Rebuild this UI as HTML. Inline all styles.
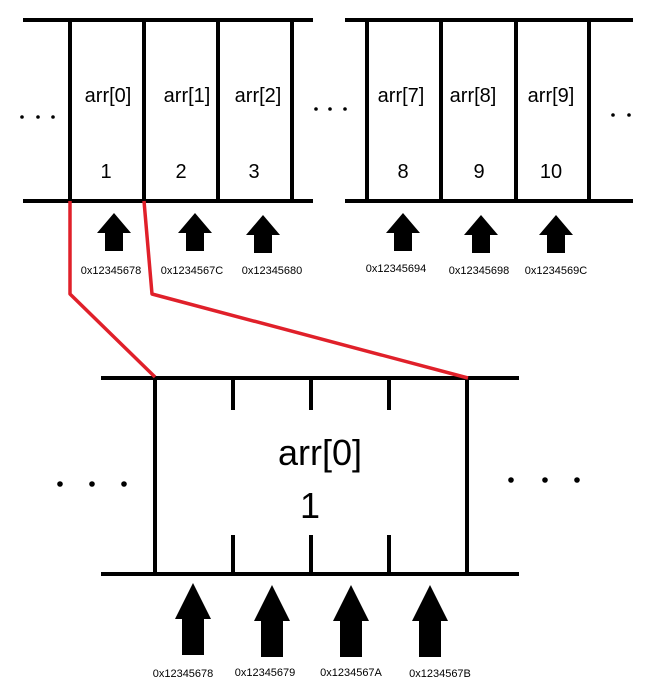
<!DOCTYPE html>
<html><head><style>
html,body{margin:0;padding:0;background:#fff;}
svg{display:block;}
text{font-family:"Liberation Sans",sans-serif;fill:#000;}
</style></head><body>
<svg width="655" height="681" viewBox="0 0 655 681" xmlns="http://www.w3.org/2000/svg">
<defs>
<path id="a1" d="M0,0 L17,20 L9,20 L9,38 L-9,38 L-9,20 L-17,20 Z"/>
<path id="a2" d="M0,0 L18,36 L11,36 L11,72 L-11,72 L-11,36 L-18,36 Z"/>
</defs>
<g stroke="#000" stroke-width="4" fill="none">
<line x1="23" y1="20" x2="313" y2="20"/>
<line x1="23" y1="201" x2="313" y2="201"/>
<line x1="70" y1="20" x2="70" y2="201"/>
<line x1="144" y1="20" x2="144" y2="201"/>
<line x1="218" y1="20" x2="218" y2="201"/>
<line x1="292" y1="20" x2="292" y2="201"/>
<line x1="345" y1="20" x2="633" y2="20"/>
<line x1="345" y1="201" x2="633" y2="201"/>
<line x1="367" y1="20" x2="367" y2="201"/>
<line x1="441" y1="20" x2="441" y2="201"/>
<line x1="516" y1="20" x2="516" y2="201"/>
<line x1="589" y1="20" x2="589" y2="201"/>
<line x1="101" y1="378" x2="519" y2="378"/>
<line x1="101" y1="574" x2="519" y2="574"/>
<line x1="155" y1="378" x2="155" y2="574"/>
<line x1="467" y1="378" x2="467" y2="574"/>
<line x1="233" y1="378" x2="233" y2="410"/>
<line x1="311" y1="378" x2="311" y2="410"/>
<line x1="389" y1="378" x2="389" y2="410"/>
<line x1="233" y1="535" x2="233" y2="574"/>
<line x1="311" y1="535" x2="311" y2="574"/>
<line x1="389" y1="535" x2="389" y2="574"/>
</g>
<g stroke="#e0202a" stroke-width="3.5" fill="none" stroke-linejoin="round">
<polyline points="70,201 70,294 155,377"/>
<polyline points="144,201 152,294 468,378"/>
</g>
<g fill="#000">
<circle cx="22" cy="117" r="1.8"/><circle cx="38" cy="117" r="1.8"/><circle cx="53" cy="117" r="1.8"/>
<circle cx="316" cy="109" r="1.8"/><circle cx="330" cy="109" r="1.8"/><circle cx="345" cy="109" r="1.8"/>
<circle cx="613" cy="115" r="1.8"/><circle cx="629" cy="115" r="1.8"/>
<circle cx="60" cy="484" r="2.8"/><circle cx="92" cy="484" r="2.8"/><circle cx="124" cy="484" r="2.8"/>
<circle cx="511" cy="480" r="2.8"/><circle cx="545" cy="480" r="2.8"/><circle cx="577" cy="480" r="2.8"/>
<use href="#a1" x="114" y="213"/><use href="#a1" x="195" y="213"/><use href="#a1" x="263" y="215"/>
<use href="#a1" x="403" y="213"/><use href="#a1" x="481" y="215"/><use href="#a1" x="556" y="215"/>
<use href="#a2" x="193" y="583"/><use href="#a2" x="272" y="585"/><use href="#a2" x="351" y="585"/><use href="#a2" x="430" y="585"/>
</g>
<g font-size="20" text-anchor="middle">
<text x="108" y="102">arr[0]</text>
<text x="187" y="102">arr[1]</text>
<text x="258" y="102">arr[2]</text>
<text x="401" y="102">arr[7]</text>
<text x="473" y="102">arr[8]</text>
<text x="551" y="102">arr[9]</text>
<text x="106" y="178">1</text>
<text x="181" y="178">2</text>
<text x="254" y="178">3</text>
<text x="403" y="178">8</text>
<text x="479" y="178">9</text>
<text x="551" y="178">10</text>
</g>
<g font-size="11" text-anchor="middle" fill="#222">
<text x="111" y="274">0x12345678</text>
<text x="192" y="274">0x1234567C</text>
<text x="272" y="274">0x12345680</text>
<text x="396" y="272">0x12345694</text>
<text x="479" y="274">0x12345698</text>
<text x="556" y="274">0x1234569C</text>
<text x="183" y="677">0x12345678</text>
<text x="265" y="676">0x12345679</text>
<text x="351" y="676">0x1234567A</text>
<text x="440" y="677">0x1234567B</text>
</g>
<text x="320" y="465" font-size="36" text-anchor="middle">arr[0]</text>
<text x="310" y="518" font-size="36" text-anchor="middle">1</text>
</svg>
</body></html>
